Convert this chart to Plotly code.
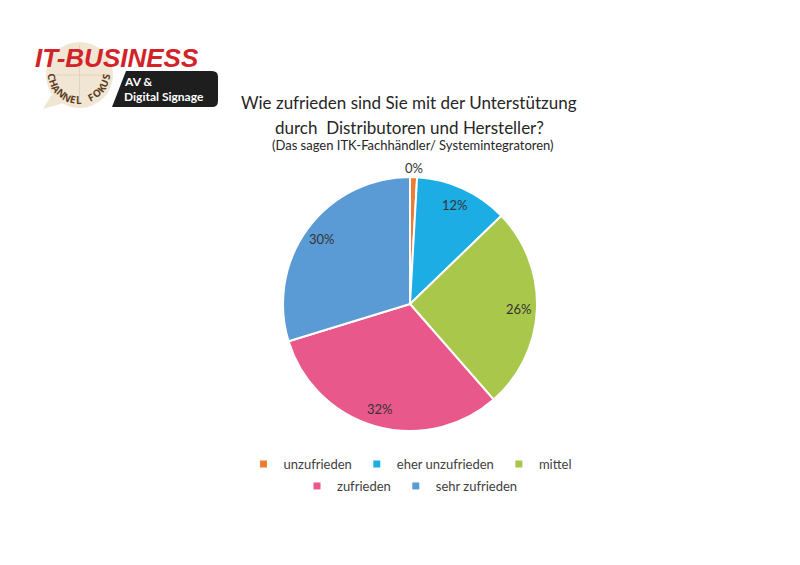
import math
import plotly.graph_objects as go

# ---- data ----
categories = ["unzufrieden", "eher unzufrieden", "mittel", "zufrieden", "sehr zufrieden"]
values = [0.9, 12, 26, 32, 30]
value_labels = ["0%", "12%", "26%", "32%", "30%"]
colors = ["#ED7D31", "#1CADE4", "#A9C74B", "#E9588A", "#5B9BD5"]
legend_rows = ["legend", "legend", "legend", "legend2", "legend2"]

title_line1 = "Wie zufrieden sind Sie mit der Unterstützung"
title_line2 = "durch  Distributoren und Hersteller?"
subtitle = "(Das sagen ITK-Fachhändler/ Systemintegratoren)"

# page has an 8px body margin -> work in screen pixels and convert
OFF = 8
W, H = 792, 557
ML, MR = 202, 190
PW = W - ML - MR


def px(x):
    return (x - OFF - ML) / PW


def py(y):
    return 1 - (y - OFF) / H


FONT = "Lato, Open Sans, sans-serif"

# pie geometry (screen px)
CX, CY, R = 410, 304, 127

fig = go.Figure()
fig.add_trace(
    go.Pie(
        labels=categories,
        values=values,
        textinfo="none",
        marker=dict(colors=colors, line=dict(color="white", width=2)),
        sort=False,
        direction="clockwise",
        rotation=0,
        hoverinfo="label+percent",
        showlegend=False,
        domain=dict(x=[px(CX - R), px(CX + R)], y=[py(CY + R), py(CY - R)]),
    )
)

# legend entries (square markers, two centred rows)
for cat, col, lg in zip(categories, colors, legend_rows):
    fig.add_trace(go.Scatter(x=[None], y=[None], mode="markers", name=cat,
                             marker=dict(symbol="square", size=7, color=col),
                             legend=lg, hoverinfo="skip"))

annotations = [
    dict(text=title_line1, x=px(409), y=py(103), font=dict(size=17, color="#262626", family=FONT)),
    dict(text=title_line2, x=px(409), y=py(127), font=dict(size=17, color="#262626", family=FONT)),
    dict(text=subtitle, x=px(413), y=py(145), font=dict(size=13, color="#262626", family=FONT)),
]

# data labels placed along each slice's mid-angle
total = sum(values)
cum = 0.0
for v, lab in zip(values, value_labels):
    mid = (cum + v / 2) / total * 2 * math.pi
    cum += v
    rr = R * (1.07 if v / total < 0.03 else 0.86)
    lx = CX + rr * math.sin(mid)
    ly = CY - rr * math.cos(mid)
    annotations.append(dict(text=lab, x=px(lx), y=py(ly),
                            font=dict(size=13, color="#333333", family=FONT)))

shapes = []
# logo stamp (beige circle with small tail)
shapes.append(dict(type="circle", xref="paper", yref="paper",
                   x0=px(46), x1=px(113), y0=py(108), y1=py(42),
                   fillcolor="#F1E6D3", line=dict(width=0), layer="above"))
shapes.append(dict(type="path", xref="paper", yref="paper",
                   path=f"M {px(52)} {py(94)} L {px(43)} {py(109)} L {px(64)} {py(103)} Z",
                   fillcolor="#F1E6D3", line=dict(width=0), layer="above"))
shapes.append(dict(type="line", xref="paper", yref="paper",
                   x0=px(79.5), x1=px(79.5), y0=py(45), y1=py(105),
                   line=dict(color="#E2D3BA", width=1), layer="above"))
shapes.append(dict(type="line", xref="paper", yref="paper",
                   x0=px(49), x1=px(110), y0=py(75), y1=py(75),
                   line=dict(color="#E2D3BA", width=1), layer="above"))
# black box
shapes.append(dict(type="path", xref="paper", yref="paper",
                   path=(f"M {px(126)} {py(71)} L {px(212)} {py(71)} "
                         f"Q {px(218)} {py(71)} {px(218)} {py(77)} "
                         f"L {px(218)} {py(101)} Q {px(218)} {py(107)} {px(212)} {py(107)} "
                         f"L {px(112)} {py(107)} Z"),
                   fillcolor="#1E1E1E", line=dict(width=0), layer="above"))

# arc letters "CHANNEL FOKUS"
arc_text = "CHANNEL FOKUS"
acx, acy, ar = 79, 73, 27
a0, a1 = 172, 8
n = len(arc_text)
for i, ch in enumerate(arc_text):
    if ch == " ":
        continue
    deg = a0 - (a0 - a1) * i / (n - 1)
    ang = math.radians(deg)
    lx = acx + ar * math.cos(ang)
    ly = acy + ar * math.sin(ang)
    annotations.append(dict(text=f"<b>{ch}</b>", x=px(lx), y=py(ly), textangle=deg - 90,
                            font=dict(size=10, color="#5C3D1E", family="Open Sans, sans-serif")))

# logo texts
annotations.append(dict(text="<b><i>IT-BUSINESS</i></b>", x=px(117), y=py(58),
                        font=dict(size=26, color="#D2232A", family="Liberation Sans, Arial, sans-serif")))
annotations.append(dict(text="<b>AV &amp;</b>", x=px(122), y=py(82), xanchor="left",
                        font=dict(size=12, color="white", family=FONT)))
annotations.append(dict(text="<b>Digital Signage</b>", x=px(122), y=py(97), xanchor="left",
                        font=dict(size=12, color="white", family=FONT)))

for a in annotations:
    a.setdefault("xref", "paper")
    a.setdefault("yref", "paper")
    a.setdefault("showarrow", False)
    a.setdefault("xanchor", "center")
    a.setdefault("yanchor", "middle")

legend_common = dict(orientation="h", x=0.5, xanchor="center", yanchor="middle",
                     font=dict(size=13, color="#404040", family=FONT), itemwidth=30,
                     traceorder="normal", bgcolor="rgba(0,0,0,0)")

fig.update_layout(
    width=W, height=H,
    margin=dict(l=ML, r=MR, t=0, b=0),
    paper_bgcolor="white",
    plot_bgcolor="white",
    font=dict(family=FONT, color="#404040"),
    showlegend=True,
    xaxis=dict(visible=False),
    yaxis=dict(visible=False),
    legend=dict(y=py(464), **legend_common),
    legend2=dict(y=py(486), **legend_common),
    annotations=annotations,
    shapes=shapes,
)

fig.write_html("out.html")
